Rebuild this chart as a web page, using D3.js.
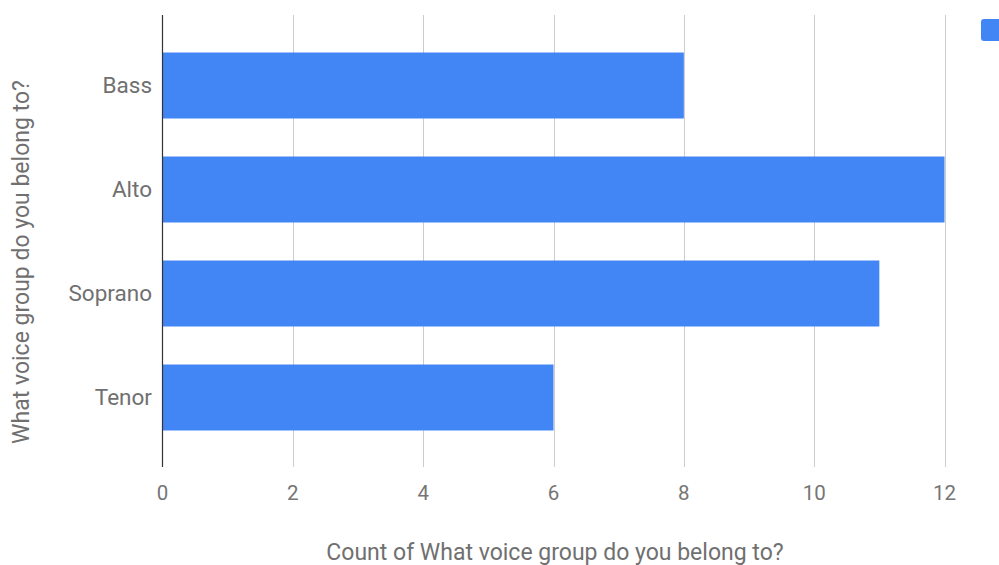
<!DOCTYPE html>
<html><head><meta charset="utf-8">
<script src="https://cdn.jsdelivr.net/npm/d3@7"></script>
<style>body{margin:0;background:#fff}svg{display:block}text{font-family:Roboto,sans-serif}</style>
</head><body>
<svg id="c" width="999" height="565"></svg>
<script>
const categories = ["Bass","Alto","Soprano","Tenor"];
const values = [8,12,11,6];
const xTicks = [0,2,4,6,8,10,12];
const seriesName = "Count of What voice group do you belong to?";
const yTitle = "What voice group do you belong to?";

const svg = d3.select("#c");
const x = d3.scaleLinear().domain([0,12]).range([162.5,944.5]);
const y = d3.scaleBand().domain(categories).range([15.5,467.5]).paddingInner(0.3654).paddingOuter(0.3558);

// gridlines
svg.append("g").selectAll("line").data(xTicks.filter(d=>d>0)).join("line")
  .attr("x1",d=>Math.round(x(d))+0.5).attr("x2",d=>Math.round(x(d))+0.5)
  .attr("y1",15).attr("y2",467).attr("stroke","#cccccc").attr("stroke-width",1);

// bars
svg.append("g").selectAll("rect").data(categories).join("rect")
  .attr("x",x(0)).attr("y",d=>y(d)).attr("height",y.bandwidth())
  .attr("width",(d,i)=>x(values[i])-x(0)).attr("fill","#4285f4");

// axis line
svg.append("line").attr("x1",162.5).attr("x2",162.5).attr("y1",15).attr("y2",467)
  .attr("stroke","#333").attr("stroke-width",1.2);

// x tick labels
svg.append("g").selectAll("text").data(xTicks).join("text")
  .attr("x",d=>x(d)).attr("y",500).attr("text-anchor","middle")
  .attr("font-size",20.5).attr("fill","#757575").text(d=>d);

// y labels
svg.append("g").selectAll("text").data(categories).join("text")
  .attr("x",152).attr("y",d=>y(d)+y.bandwidth()/2).attr("dy","0.35em")
  .attr("text-anchor","end").attr("font-size",22.5).attr("fill","#707070").text(d=>d);

// axis titles
svg.append("text").attr("x",555).attr("y",560).attr("text-anchor","middle")
  .attr("font-size",23).attr("fill","#707070").text(seriesName);
svg.append("text").attr("transform","translate(29,262) rotate(-90)").attr("text-anchor","middle")
  .attr("font-size",23).attr("fill","#707070").text(yTitle);

// legend
svg.append("rect").attr("x",981).attr("y",19).attr("width",26).attr("height",22).attr("rx",3)
  .attr("fill","#4285f4");
</script>
</body></html>
